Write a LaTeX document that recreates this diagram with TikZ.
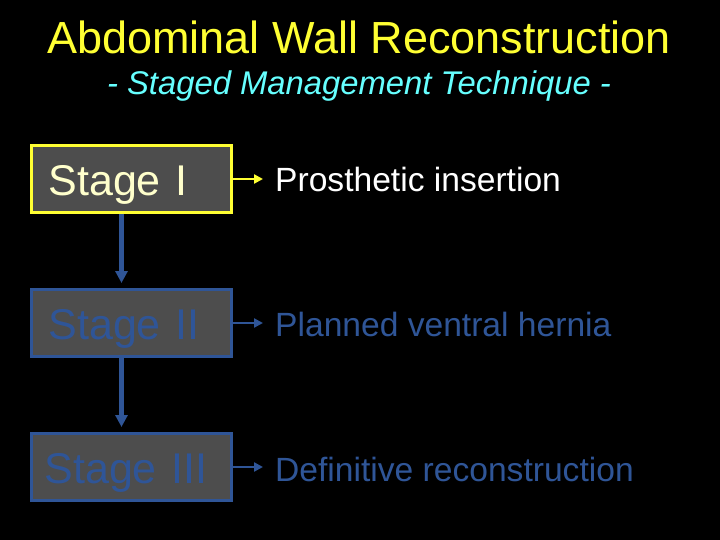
\documentclass[tikz,border=0pt]{standalone}
\usepackage{fontspec}
\setmainfont{Liberation Sans}
\usetikzlibrary{arrows.meta}
\definecolor{titleyellow}{HTML}{FFFF33}
\definecolor{subcyan}{HTML}{66FFFF}
\definecolor{paleyellow}{HTML}{FFFFCC}
\definecolor{stageblue}{HTML}{2F5597}
\definecolor{boxgray}{HTML}{4D4D4D}

\begin{document}
\begin{tikzpicture}[x=1pt, y=-1pt,
	stagebox/.style={draw, line width=3pt, fill=boxgray, anchor=north west,
		inner xsep=17pt, inner ysep=4pt, text width=166pt, minimum height=67pt, align=left,
		text height=33pt, text depth=0pt,
		font=\fontsize{43pt}{48pt}\selectfont},
	steptext/.style={anchor=base west, inner xsep=12pt, font=\fontsize{33.6pt}{38pt}\selectfont},
	sidearrow/.style={line width=2.5pt, -{Triangle[length=9pt,width=9pt]}},
	downarrow/.style={line width=4.5pt, color=stageblue, shorten >=5pt,
		-{Triangle[length=12pt,width=12pt]}}]
			%%%%% START %%%%%
			
			\fill[black] (0, 0) rectangle (720, 540);
			\useasboundingbox (0, 0) rectangle (720, 540);
			
			\node[titleyellow, anchor=base, font=\fontsize{45pt}{50pt}\selectfont] (title) at (359, 54) {Abdominal Wall Reconstruction};
			\node[subcyan, anchor=base, font=\fontsize{32.8pt}{38pt}\itshape] (subtitle) at (359, 95) {- Staged Management Technique -};
			
			\node[stagebox, draw=titleyellow, text=paleyellow] (stageone) at (30, 144) {Stage I};
			\node[stagebox, draw=stageblue, text=stageblue] (stagetwo) at (30, 288) {Stage II};
			\node[stagebox, draw=stageblue, text=stageblue, inner xsep=13pt, text width=174pt] (stagethree) at (30, 432) {Stage III};
			
			\node[steptext, text=white] (insertion) at (263, 192) {Prosthetic insertion};
			\node[steptext, text=stageblue] (hernia) at (263, 336) {Planned ventral hernia};
			\node[steptext, text=stageblue] (definitive) at (263, 481) {Definitive reconstruction};
			
			\draw[sidearrow, titleyellow] (stageone.east) -- (stageone.east -| insertion.west);
			\draw[sidearrow, stageblue] (stagetwo.east) -- (stagetwo.east -| hernia.west);
			\draw[sidearrow, stageblue] (stagethree.east) -- (stagethree.east -| definitive.west);
			
			\draw[downarrow] ([xshift=-10pt]stageone.south) -- ([xshift=-10pt]stagetwo.north);
			\draw[downarrow] ([xshift=-10pt]stagetwo.south) -- ([xshift=-10pt]stagethree.north);
			
			%%%%% END %%%%%
\end{tikzpicture}
\end{document}
